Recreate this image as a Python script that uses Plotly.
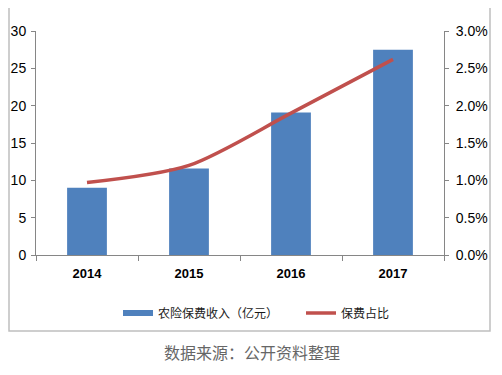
import plotly.graph_objects as go

years = ["2014", "2015", "2016", "2017"]
premium = [9.0, 11.6, 19.1, 27.5]          # 农险保费收入（亿元）
share = [0.0097, 0.0120, 0.0190, 0.0262]   # 保费占比
bar_name = "农险保费收入（亿元）"
line_name = "保费占比"

# page has an 8px body margin; figure origin is at (8, 8)
W, H = 494, 367
L, T = 36 - 8, 31 - 8
R = W - (444 - 8)
B = H - (255 - 8)

def px(x):  # page x -> paper
    return (x - 36) / 408

def py(y):  # page y -> paper
    return (255 - y) / 224

BLUE, RED = "#4F81BD", "#C0504D"

fig = go.Figure()
fig.add_trace(go.Bar(
    x=years, y=premium, name=bar_name, showlegend=False,
    marker=dict(color=BLUE, line=dict(width=0)), width=0.39,
))
# legend-only entry giving the wide flat swatch of the reference
fig.add_trace(go.Scatter(
    x=[None], y=[None], name=bar_name, mode="lines",
    line=dict(color=BLUE, width=6),
))
fig.add_trace(go.Scatter(
    x=years, y=share, name=line_name, yaxis="y2", mode="lines",
    line=dict(color=RED, width=3.5, shape="spline", smoothing=0.8),
))

tickfont = dict(family="Liberation Sans, Arial", size=14, color="#000")

fig.update_layout(
    width=W, height=H,
    margin=dict(l=L, r=R, t=T, b=B, autoexpand=False),
    paper_bgcolor="white", plot_bgcolor="white",
    xaxis=dict(
        type="category", showline=True, linecolor="#868686", linewidth=1,
        ticks="outside", tickson="boundaries", ticklen=5, tickcolor="#868686",
        tickfont=dict(family="Liberation Sans, Arial", size=13, color="#000", weight="bold"),
        showgrid=False, fixedrange=True, automargin=False, ticklabelstandoff=6,
    ),
    yaxis=dict(
        range=[0, 30], dtick=5, showline=True, linecolor="#868686", linewidth=1,
        ticks="outside", ticklen=4, tickcolor="#868686", showgrid=False, zeroline=False,
        tickfont=tickfont, automargin=False, ticklabelstandoff=2,
    ),
    yaxis2=dict(
        range=[0, 0.03], dtick=0.005, tickformat=".1%", overlaying="y", side="right",
        showline=True, linecolor="#868686", linewidth=1,
        ticks="outside", ticklen=4, tickcolor="#868686", showgrid=False, zeroline=False,
        tickfont=tickfont, automargin=False, ticklabelstandoff=4,
    ),
    legend=dict(
        orientation="h", x=px(118), xanchor="left", y=py(313), yanchor="middle",
        font=dict(family="Noto Sans CJK SC", size=12, color="#1a1a1a"),
        itemwidth=30, tracegroupgap=0, entrywidth=138, entrywidthmode="pixels",
    ),
    showlegend=True,
    shapes=[
        dict(type="rect", xref="paper", yref="paper",
             x0=px(9), x1=px(490), y0=py(331), y1=py(6),
             line=dict(color="#BFBFBF", width=1.5), layer="below"),
    ],
    annotations=[
        dict(text="数据来源：公开资料整理", xref="paper", yref="paper",
             x=px(252), y=py(352), xanchor="center", yanchor="middle", showarrow=False,
             font=dict(family="Noto Sans CJK SC", size=16, color="#666")),
    ],
)

fig.write_html("out.html")
